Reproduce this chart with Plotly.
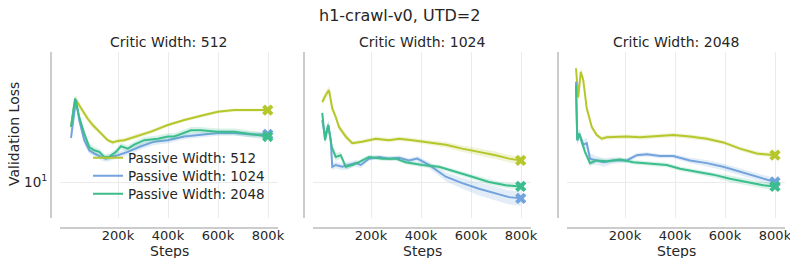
import plotly.graph_objects as go

# ---- data: validation loss per critic width (panel) and passive width (series)
steps_c512_p512 = [12e3, 25e3, 32e3, 45e3, 59e3, 79e3, 99e3, 119e3, 139e3, 159e3, 179e3, 199e3,
                   225e3, 265e3, 332e3, 399e3, 465e3, 532e3, 599e3, 665e3, 732e3, 799e3]
loss_c512_p512 = [16.6, 20.3, 21.3, 20.3, 19.1, 17.9, 16.9, 16.1, 15.4, 14.7, 14.4, 14.6,
                  14.7, 15.1, 15.9, 16.9, 17.7, 18.4, 19.1, 19.4, 19.4, 19.4]
spread_c512_p512 = [0.03, 0.04, 0.04, 0.03, 0.03, 0.03, 0.03, 0.02, 0.02, 0.02, 0.02, 0.02,
                    0.02, 0.02, 0.02, 0.015, 0.015, 0.015, 0.015, 0.015, 0.015, 0.015]

steps_c512_p1024 = [12e3, 32e3, 45e3, 65e3, 85e3, 105e3, 132e3, 152e3, 172e3, 199e3, 239e3,
                    292e3, 345e3, 399e3, 465e3, 532e3, 599e3, 665e3, 732e3, 799e3]
loss_c512_p1024 = [15.0, 21.3, 17.7, 14.7, 13.4, 13.0, 12.6, 12.4, 12.6, 12.8, 13.2,
                   13.9, 14.5, 14.7, 15.2, 15.5, 15.7, 15.7, 15.5, 15.5]
spread_c512_p1024 = [0.04, 0.04, 0.04, 0.04, 0.03, 0.03, 0.03, 0.03, 0.03, 0.03, 0.03,
                     0.03, 0.03, 0.03, 0.025, 0.025, 0.025, 0.025, 0.025, 0.025]

steps_c512_p2048 = [12e3, 28e3, 45e3, 65e3, 85e3, 105e3, 125e3, 145e3, 165e3, 192e3, 212e3,
                    239e3, 265e3, 305e3, 359e3, 399e3, 425e3, 452e3, 492e3, 532e3, 599e3,
                    665e3, 732e3, 799e3]
loss_c512_p2048 = [16.6, 21.6, 18.2, 15.6, 13.8, 13.4, 13.2, 12.6, 12.6, 13.2, 13.9,
                   13.6, 14.1, 14.7, 14.9, 15.2, 15.2, 15.6, 16.1, 16.1, 15.9,
                   15.9, 15.6, 15.2]
spread_c512_p2048 = [0.04, 0.04, 0.04, 0.04, 0.04, 0.03, 0.03, 0.03, 0.03, 0.03, 0.03,
                     0.03, 0.03, 0.03, 0.03, 0.03, 0.03, 0.03, 0.03, 0.03, 0.03,
                     0.03, 0.03, 0.03]

steps_c1024_p512 = [5e3, 19e3, 32e3, 45e3, 59e3, 72e3, 99e3, 125e3, 165e3, 219e3, 272e3,
                    312e3, 365e3, 432e3, 499e3, 565e3, 632e3, 699e3, 752e3, 799e3]
loss_c1024_p512 = [20.9, 22.3, 23.3, 19.7, 18.2, 16.6, 15.2, 14.3, 14.5, 14.9, 14.7,
                   14.9, 14.7, 14.4, 14.1, 13.6, 13.2, 12.8, 12.4, 12.2]
spread_c1024_p512 = [0.03, 0.04, 0.04, 0.04, 0.03, 0.03, 0.03, 0.02, 0.02, 0.02, 0.02,
                     0.02, 0.02, 0.02, 0.025, 0.03, 0.035, 0.035, 0.035, 0.035]

steps_c1024_p1024 = [5e3, 16e3, 29e3, 39e3, 45e3, 59e3, 85e3, 112e3, 139e3, 159e3, 192e3,
                     232e3, 272e3, 312e3, 352e3, 385e3, 432e3, 499e3, 565e3, 632e3,
                     699e3, 752e3, 799e3]
loss_c1024_p1024 = [17.7, 15.2, 16.9, 14.7, 11.5, 11.7, 11.5, 11.7, 11.9, 11.7, 12.4,
                    12.6, 12.4, 12.5, 12.2, 12.4, 11.7, 10.5, 9.9, 9.4,
                    9.0, 8.7, 8.6]
spread_c1024_p1024 = [0.04, 0.04, 0.04, 0.04, 0.03, 0.03, 0.03, 0.03, 0.03, 0.03, 0.02,
                      0.02, 0.02, 0.02, 0.02, 0.025, 0.03, 0.04, 0.05, 0.06,
                      0.06, 0.065, 0.065]

steps_c1024_p2048 = [5e3, 16e3, 29e3, 43e3, 59e3, 79e3, 99e3, 125e3, 152e3, 192e3, 245e3,
                     299e3, 339e3, 405e3, 472e3, 539e3, 605e3, 672e3, 739e3, 799e3]
loss_c1024_p2048 = [18.9, 14.7, 16.9, 13.8, 12.6, 12.8, 11.5, 11.7, 12.0, 12.6, 12.4,
                    12.4, 12.0, 11.7, 11.5, 11.0, 10.5, 10.0, 9.7, 9.6]
spread_c1024_p2048 = [0.05, 0.05, 0.05, 0.04, 0.04, 0.03, 0.03, 0.02, 0.02, 0.02, 0.02,
                      0.02, 0.02, 0.02, 0.02, 0.02, 0.025, 0.025, 0.025, 0.025]

steps_c2048_p512 = [4e3, 13e3, 23e3, 33e3, 47e3, 67e3, 87e3, 107e3, 127e3, 167e3, 207e3,
                    260e3, 313e3, 393e3, 460e3, 527e3, 593e3, 660e3, 727e3, 800e3]
loss_c2048_p512 = [28.5, 21.8, 27.6, 25.6, 19.7, 16.6, 15.4, 14.9, 15.1, 15.2, 15.2,
                   15.1, 15.2, 15.4, 15.2, 14.9, 14.4, 13.6, 13.0, 12.8]
spread_c2048_p512 = [0.04, 0.04, 0.04, 0.04, 0.03, 0.03, 0.02, 0.02, 0.02, 0.02, 0.02,
                     0.02, 0.02, 0.02, 0.02, 0.02, 0.02, 0.02, 0.02, 0.02]

steps_c2048_p1024 = [4e3, 9e3, 17e3, 33e3, 47e3, 60e3, 87e3, 113e3, 153e3, 207e3, 247e3,
                     287e3, 340e3, 393e3, 460e3, 527e3, 593e3, 660e3, 727e3, 800e3]
loss_c2048_p1024 = [25.2, 14.7, 15.6, 14.1, 14.3, 12.4, 12.2, 12.0, 12.2, 12.2, 12.8,
                    12.9, 12.7, 12.7, 12.2, 11.9, 11.5, 11.0, 10.5, 10.0]
spread_c2048_p1024 = [0.04, 0.05, 0.05, 0.05, 0.05, 0.05, 0.04, 0.04, 0.03, 0.02, 0.02,
                      0.02, 0.02, 0.02, 0.025, 0.03, 0.03, 0.03, 0.035, 0.035]

steps_c2048_p2048 = [4e3, 9e3, 17e3, 40e3, 60e3, 87e3, 127e3, 180e3, 233e3, 287e3, 367e3,
                     420e3, 487e3, 553e3, 620e3, 687e3, 753e3, 800e3]
loss_c2048_p2048 = [24.4, 14.7, 15.6, 13.2, 11.9, 12.2, 12.1, 12.3, 12.0, 11.9, 11.7,
                    11.3, 11.0, 10.7, 10.3, 10.0, 9.7, 9.6]
spread_c2048_p2048 = [0.04, 0.04, 0.04, 0.03, 0.03, 0.02, 0.02, 0.02, 0.02, 0.02, 0.02,
                      0.02, 0.02, 0.025, 0.03, 0.03, 0.03, 0.03]

critic_widths = [512, 1024, 2048]
passive_widths = [512, 1024, 2048]
colors = {512: "#b6c72b", 1024: "#72a3dc", 2048: "#3cbd8d"}
fills = {512: "rgba(182,199,43,0.2)", 1024: "rgba(114,163,220,0.2)", 2048: "rgba(60,189,141,0.2)"}

runs = {
    (512, 512): (steps_c512_p512, loss_c512_p512, spread_c512_p512),
    (512, 1024): (steps_c512_p1024, loss_c512_p1024, spread_c512_p1024),
    (512, 2048): (steps_c512_p2048, loss_c512_p2048, spread_c512_p2048),
    (1024, 512): (steps_c1024_p512, loss_c1024_p512, spread_c1024_p512),
    (1024, 1024): (steps_c1024_p1024, loss_c1024_p1024, spread_c1024_p1024),
    (1024, 2048): (steps_c1024_p2048, loss_c1024_p2048, spread_c1024_p2048),
    (2048, 512): (steps_c2048_p512, loss_c2048_p512, spread_c2048_p512),
    (2048, 1024): (steps_c2048_p1024, loss_c2048_p1024, spread_c2048_p1024),
    (2048, 2048): (steps_c2048_p2048, loss_c2048_p2048, spread_c2048_p2048),
}

# page body has an 8px margin, so the figure is made smaller and positions shifted
OFF = 8
W, H = 798 - 2 * OFF, 266 - 2 * OFF


def px(x):
    return (x - OFF) / W


def py(y):
    return 1 - (y - OFF) / H


x_domains = [(60, 278), (313, 531), (567, 785)]
y_lines = [51, 304, 558]
legend_rows = {512: ("legend", 158), 1024: ("legend2", 176), 2048: ("legend3", 194)}
font = "DejaVu Sans"

fig = go.Figure()

for i, cw in enumerate(critic_widths):
    xa = "x" if i == 0 else f"x{i + 1}"
    ya = "y" if i == 0 else f"y{i + 1}"
    for pw in passive_widths:
        steps, loss, spread = runs[(cw, pw)]
        upper = [v * (1 + s) for v, s in zip(loss, spread)]
        lower = [v * (1 - s) for v, s in zip(loss, spread)]
        fig.add_trace(go.Scatter(
            x=steps + steps[::-1], y=upper + lower[::-1], fill="toself",
            fillcolor=fills[pw], line=dict(width=0), mode="lines",
            showlegend=False, hoverinfo="skip", xaxis=xa, yaxis=ya,
        ))
        fig.add_trace(go.Scatter(
            x=steps, y=loss, mode="lines", line=dict(color=colors[pw], width=2),
            name=f"Passive Width: {pw}", showlegend=(i == 0),
            legend=legend_rows[pw][0], xaxis=xa, yaxis=ya,
        ))
        fig.add_trace(go.Scatter(
            x=[steps[-1]], y=[loss[-1]], mode="markers",
            marker=dict(symbol="x", size=10, color=colors[pw]),
            showlegend=False, xaxis=xa, yaxis=ya,
        ))

layout = dict(
    width=W, height=H, margin=dict(l=0, r=0, t=0, b=0),
    paper_bgcolor="white", plot_bgcolor="white",
    font=dict(family=font, size=13, color="#262626"),
    showlegend=True,
)

for pw in passive_widths:
    name, row_y = legend_rows[pw]
    layout[name] = dict(x=px(88), y=py(row_y), xanchor="left", yanchor="middle",
                        bgcolor="rgba(0,0,0,0)", font=dict(size=13.5),
                        itemwidth=30)

for i, cw in enumerate(critic_widths):
    sx = "" if i == 0 else str(i + 1)
    x0, x1 = x_domains[i]
    layout["xaxis" + sx] = dict(
        domain=[px(x0), px(x1)], range=[-32000, 840000], anchor="free",
        position=py(228), showline=True, linecolor="#cccccc", linewidth=2,
        tickvals=[200000, 400000, 600000, 800000],
        ticktext=["200k", "400k", "600k", "800k"],
        showgrid=True, gridcolor="#ebebeb", gridwidth=1, zeroline=False,
        ticks="", tickfont=dict(size=13), automargin=False,
        ticklabeloverflow="allow", ticklabelstandoff=-5,
    )
    layout["yaxis" + sx] = dict(
        domain=[py(218), py(52)], type="log", range=[0.856, 1.52],
        anchor="free", position=px(y_lines[i]), showline=True,
        linecolor="#cccccc", linewidth=2, tickvals=[10],
        ticktext=["10<sup>1</sup>"], showticklabels=(i == 0),
        showgrid=True, gridcolor="#ebebeb", gridwidth=1, zeroline=False,
        ticks="", tickfont=dict(size=13.5), automargin=False,
    )

fig.update_layout(**layout)

annotations = [
    dict(text="h1-crawl-v0, UTD=2", x=px(399), y=py(15), font=dict(size=16)),
    dict(text="Validation Loss", x=px(14), y=py(134), textangle=-90,
         font=dict(size=14)),
]
for i, cw in enumerate(critic_widths):
    x0, x1 = x_domains[i]
    annotations.append(dict(text=f"Critic Width: {cw}", x=px((x0 + x1) / 2),
                            y=py(42), font=dict(size=14)))
    annotations.append(dict(text="Steps", x=px((x0 + x1) / 2), y=py(251),
                            font=dict(size=14)))
for a in annotations:
    a.update(xref="paper", yref="paper", showarrow=False, xanchor="center",
             yanchor="middle", borderpad=0)
fig.update_layout(annotations=annotations)

fig.write_html("out.html")
